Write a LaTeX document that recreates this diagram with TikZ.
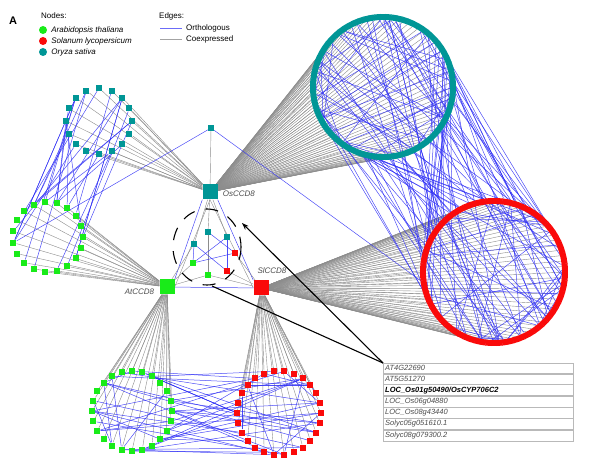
\documentclass[tikz,border=0pt]{standalone}
\usepackage{fontspec}
\setmainfont{Liberation Sans}
\usetikzlibrary{positioning,arrows.meta,calc}
\definecolor{osteal}{RGB}{0,150,150}
\definecolor{atgreen}{RGB}{25,235,25}
\definecolor{slred}{RGB}{250,10,10}
\definecolor{orthblue}{RGB}{45,45,245}
\definecolor{coexgray}{RGB}{140,140,140}
\definecolor{labgray}{RGB}{75,75,75}
\pgfdeclarelayer{bg}
\pgfsetlayers{bg,main}
\tikzset{
  gene/.style={rectangle, inner sep=0pt, minimum size=5pt},
  osgene/.style={gene, fill=osteal},
  atgene/.style={gene, fill=atgreen},
  slgene/.style={gene, fill=slred},
  hub/.style={rectangle, inner sep=0pt, minimum size=15pt},
  orth/.style={draw=orthblue, line width=0.5pt, opacity=0.85},
  coex/.style={draw=coexgray, line width=0.4pt},
  hublabel/.style={font=\fontsize{8}{9}\selectfont\itshape, text=labgray, inner sep=0pt},
  legtext/.style={font=\fontsize{8}{9}\selectfont, inner sep=1pt},
  legdot/.style={circle, inner sep=0pt, minimum size=8pt},
  tblrow/.style={draw=gray!55, line width=0.4pt, minimum width=190pt, minimum height=10.3pt,
    inner sep=2pt, text width=186pt, font=\fontsize{7.5}{8}\selectfont\itshape, text=labgray},
  pointer/.style={draw=black, line width=1.1pt}
}

\begin{document}
\begin{tikzpicture}[x=1pt, y=-1pt]
  \useasboundingbox (0,0) rectangle (600,462);
  % panel letter and legend
  \node[font=\bfseries\fontsize{11}{12}\selectfont] (panel) at (13,21) {A};
  \node[legtext, anchor=west] (nodeshead) at (40,16) {Nodes:};
  \node[legdot, fill=atgreen] (legat) at (43,30) {};
  \node[legdot, fill=slred] (legsl) at (43,41) {};
  \node[legdot, fill=osteal] (legos) at (43,52) {};
  \node[legtext, right=3pt of legat] {\itshape Arabidopsis thaliana};
  \node[legtext, right=3pt of legsl] {\itshape Solanum lycopersicum};
  \node[legtext, right=3pt of legos] {\itshape Oryza sativa};
  \node[legtext, anchor=west] (edgeshead) at (158,16) {Edges:};
  \coordinate (orthA) at (160,28);
  \coordinate (orthB) at (182,28);
  \coordinate (coexA) at (160,39);
  \coordinate (coexB) at (182,39);
  \draw[draw=orthblue!70, line width=0.8pt] (orthA) -- (orthB);
  \draw[draw=coexgray!80, line width=0.8pt] (coexA) -- (coexB);
  \node[legtext, right=3pt of orthB] {Orthologous};
  \node[legtext, right=3pt of coexB] {Coexpressed};

  % hubs
  \node[hub, fill=osteal] (os) at (210,192) {};
  \node[hub, fill=atgreen] (at) at (167,287) {};
  \node[hub, fill=slred] (sl) at (261,288) {};
  \node[hublabel, right=5pt of os, yshift=-2pt] {OsCCD8};
  \node[hublabel, left=5pt of at, yshift=-5pt] {AtCCD8};
  \node[hublabel] at (272,271) {SlCCD8};
  \node[gene, minimum size=6pt, fill=osteal] (apex) at (211,128) {};

  % genes inside the dashed circle
  \node[osgene, minimum size=6pt] (t1) at (208,232) {};
  \node[osgene, minimum size=6pt] (t2) at (227,237) {};
  \node[osgene, minimum size=6pt] (t3) at (194,244) {};
  \node[slgene, minimum size=6pt] (r1) at (235,253) {};
  \node[slgene, minimum size=6pt] (r2) at (227,271) {};
  \node[atgene, minimum size=6pt] (g1) at (193,263) {};
  \node[atgene, minimum size=6pt] (g2) at (208,275) {};

  % gene rings
  \foreach \i in {1,...,80} {
    \node[osgene, minimum size=6pt, rotate=-\i*4.5] (tc\i) at ($(383,87)+(\i*4.5:70)$) {};
    \node[slgene, minimum size=6pt, rotate=-\i*4.5] (rc\i) at ($(494,272)+(\i*4.5:71)$) {};
  }
  \foreach \i in {1,...,16}
    \node[osgene, minimum size=6pt] (tl\i) at ($(99,121)+({\i*22.5}:33)$) {};
  \foreach \i in {1,...,19}
    \node[atgene, minimum size=6pt] (gl\i) at ($(48,237)+({\i*360/19}:35)$) {};
  \foreach \i in {1,...,24}
    \node[atgene, minimum size=6pt] (gb\i) at ($(132,411)+({\i*15}:40)$) {};
  \foreach \i in {1,...,26}
    \node[slgene, minimum size=6pt] (rb\i) at ($(279,413)+({\i*360/26}:42)$) {};

  % gene list
  \node[tblrow, anchor=north west] (row1) at (383,363) {AT4G22690};
  \node[tblrow, below=0pt of row1] (row2) {AT5G51270};
  \node[tblrow, below=0pt of row2, text=black] (row3) {\bfseries LOC\_Os01g50490/OsCYP706C2};
  \node[tblrow, below=0pt of row3] (row4) {LOC\_Os06g04880};
  \node[tblrow, below=0pt of row4] (row5) {LOC\_Os08g43440};
  \node[tblrow, below=0pt of row5] (row6) {Solyc05g051610.1};
  \node[tblrow, below=0pt of row6] (row7) {Solyc08g079300.2};

  \pgfmathsetseed{11}
  \begin{pgfonlayer}{bg}
    % coexpression fans
    \foreach \i in {1,...,80} {
      \draw[coex] (os) -- (tc\i);
      \draw[coex] (sl) -- (rc\i);
    }
    \foreach \i in {1,...,16} \draw[coex] (os) -- (tl\i);
    \foreach \i in {1,...,19} \draw[coex] (at) -- (gl\i);
    \foreach \i in {1,...,24} \draw[coex] (at) -- (gb\i);
    \foreach \i in {1,...,26} \draw[coex] (sl) -- (rb\i);
    % orthologous links between the large rings
    \foreach \k in {1,...,75} {
      \pgfmathtruncatemacro\ida{random(1,80)}
      \pgfmathtruncatemacro\idb{random(1,80)}
      \draw[orth] (tc\ida) -- (rc\idb);
    }
    \foreach \k in {1,...,32} {
      \pgfmathtruncatemacro\ida{random(1,80)}
      \pgfmathtruncatemacro\idb{random(1,80)}
      \draw[orth] (tc\ida) -- (tc\idb);
    }
    \foreach \k in {1,...,30} {
      \pgfmathtruncatemacro\ida{random(1,80)}
      \pgfmathtruncatemacro\idb{random(1,80)}
      \draw[orth] (rc\ida) -- (rc\idb);
    }
    % left clusters
    \foreach \k in {1,...,26} {
      \pgfmathtruncatemacro\ida{random(1,16)}
      \pgfmathtruncatemacro\idb{random(1,19)}
      \draw[orth] (tl\ida) -- (gl\idb);
    }
    % bottom clusters
    \foreach \k in {1,...,36} {
      \pgfmathtruncatemacro\ida{random(1,24)}
      \pgfmathtruncatemacro\idb{random(1,26)}
      \draw[orth] (gb\ida) -- (rb\idb);
    }
    \foreach \k in {1,...,8} {
      \pgfmathtruncatemacro\ida{random(1,24)}
      \pgfmathtruncatemacro\idb{random(1,24)}
      \draw[orth] (gb\ida) -- (gb\idb);
      \pgfmathtruncatemacro\ida{random(1,26)}
      \pgfmathtruncatemacro\idb{random(1,26)}
      \draw[orth] (rb\ida) -- (rb\idb);
    }
    % apex gene
    \draw[coex] (apex) -- (os);
    \draw[orth] (apex) -- (gl9);
    \draw[orth] (apex) -- (rc38);
    % hub triangle
    \draw[orth] (os.south west) -- (at.north east);
    \draw[orth] (os.south east) -- (sl.north west);
    \draw[orth] (at) -- (sl);
    \draw[coex] (os.south) -- (at.east);
    \draw[coex] (os.south) -- (sl.west);
    % inner genes
    \foreach \g in {t1,t2,t3} \draw[coex] (os) -- (\g);
    \foreach \g in {g1,g2,t3} \draw[coex] (at) -- (\g);
    \foreach \g in {r1,r2,g2} \draw[coex] (sl) -- (\g);
    \draw[coex] (t1) -- (g2);
    \draw[orth] (t1) -- (r1);
    \draw[orth] (t2) -- (g1);
    \draw[orth] (t3) -- (r2);
    \draw[orth] (t3) -- (g1);
    \draw[orth] (t2) -- (r2);
    \draw[orth] (g1) -- (r1);
    \draw[black, line width=1.1pt, dash pattern=on 13pt off 11pt]
      (207,247) ellipse [x radius=34, y radius=38];
  \end{pgfonlayer}

  % pointers to the gene list
  \coordinate (ringtip) at (242,223);
  \coordinate (ringend) at (212,286);
  \draw[pointer, -{Stealth[length=7pt, width=5pt]}] (row1.north west) -- (ringtip);
  \draw[pointer] (row1.north west) -- (ringend);
\end{tikzpicture}
\end{document}
